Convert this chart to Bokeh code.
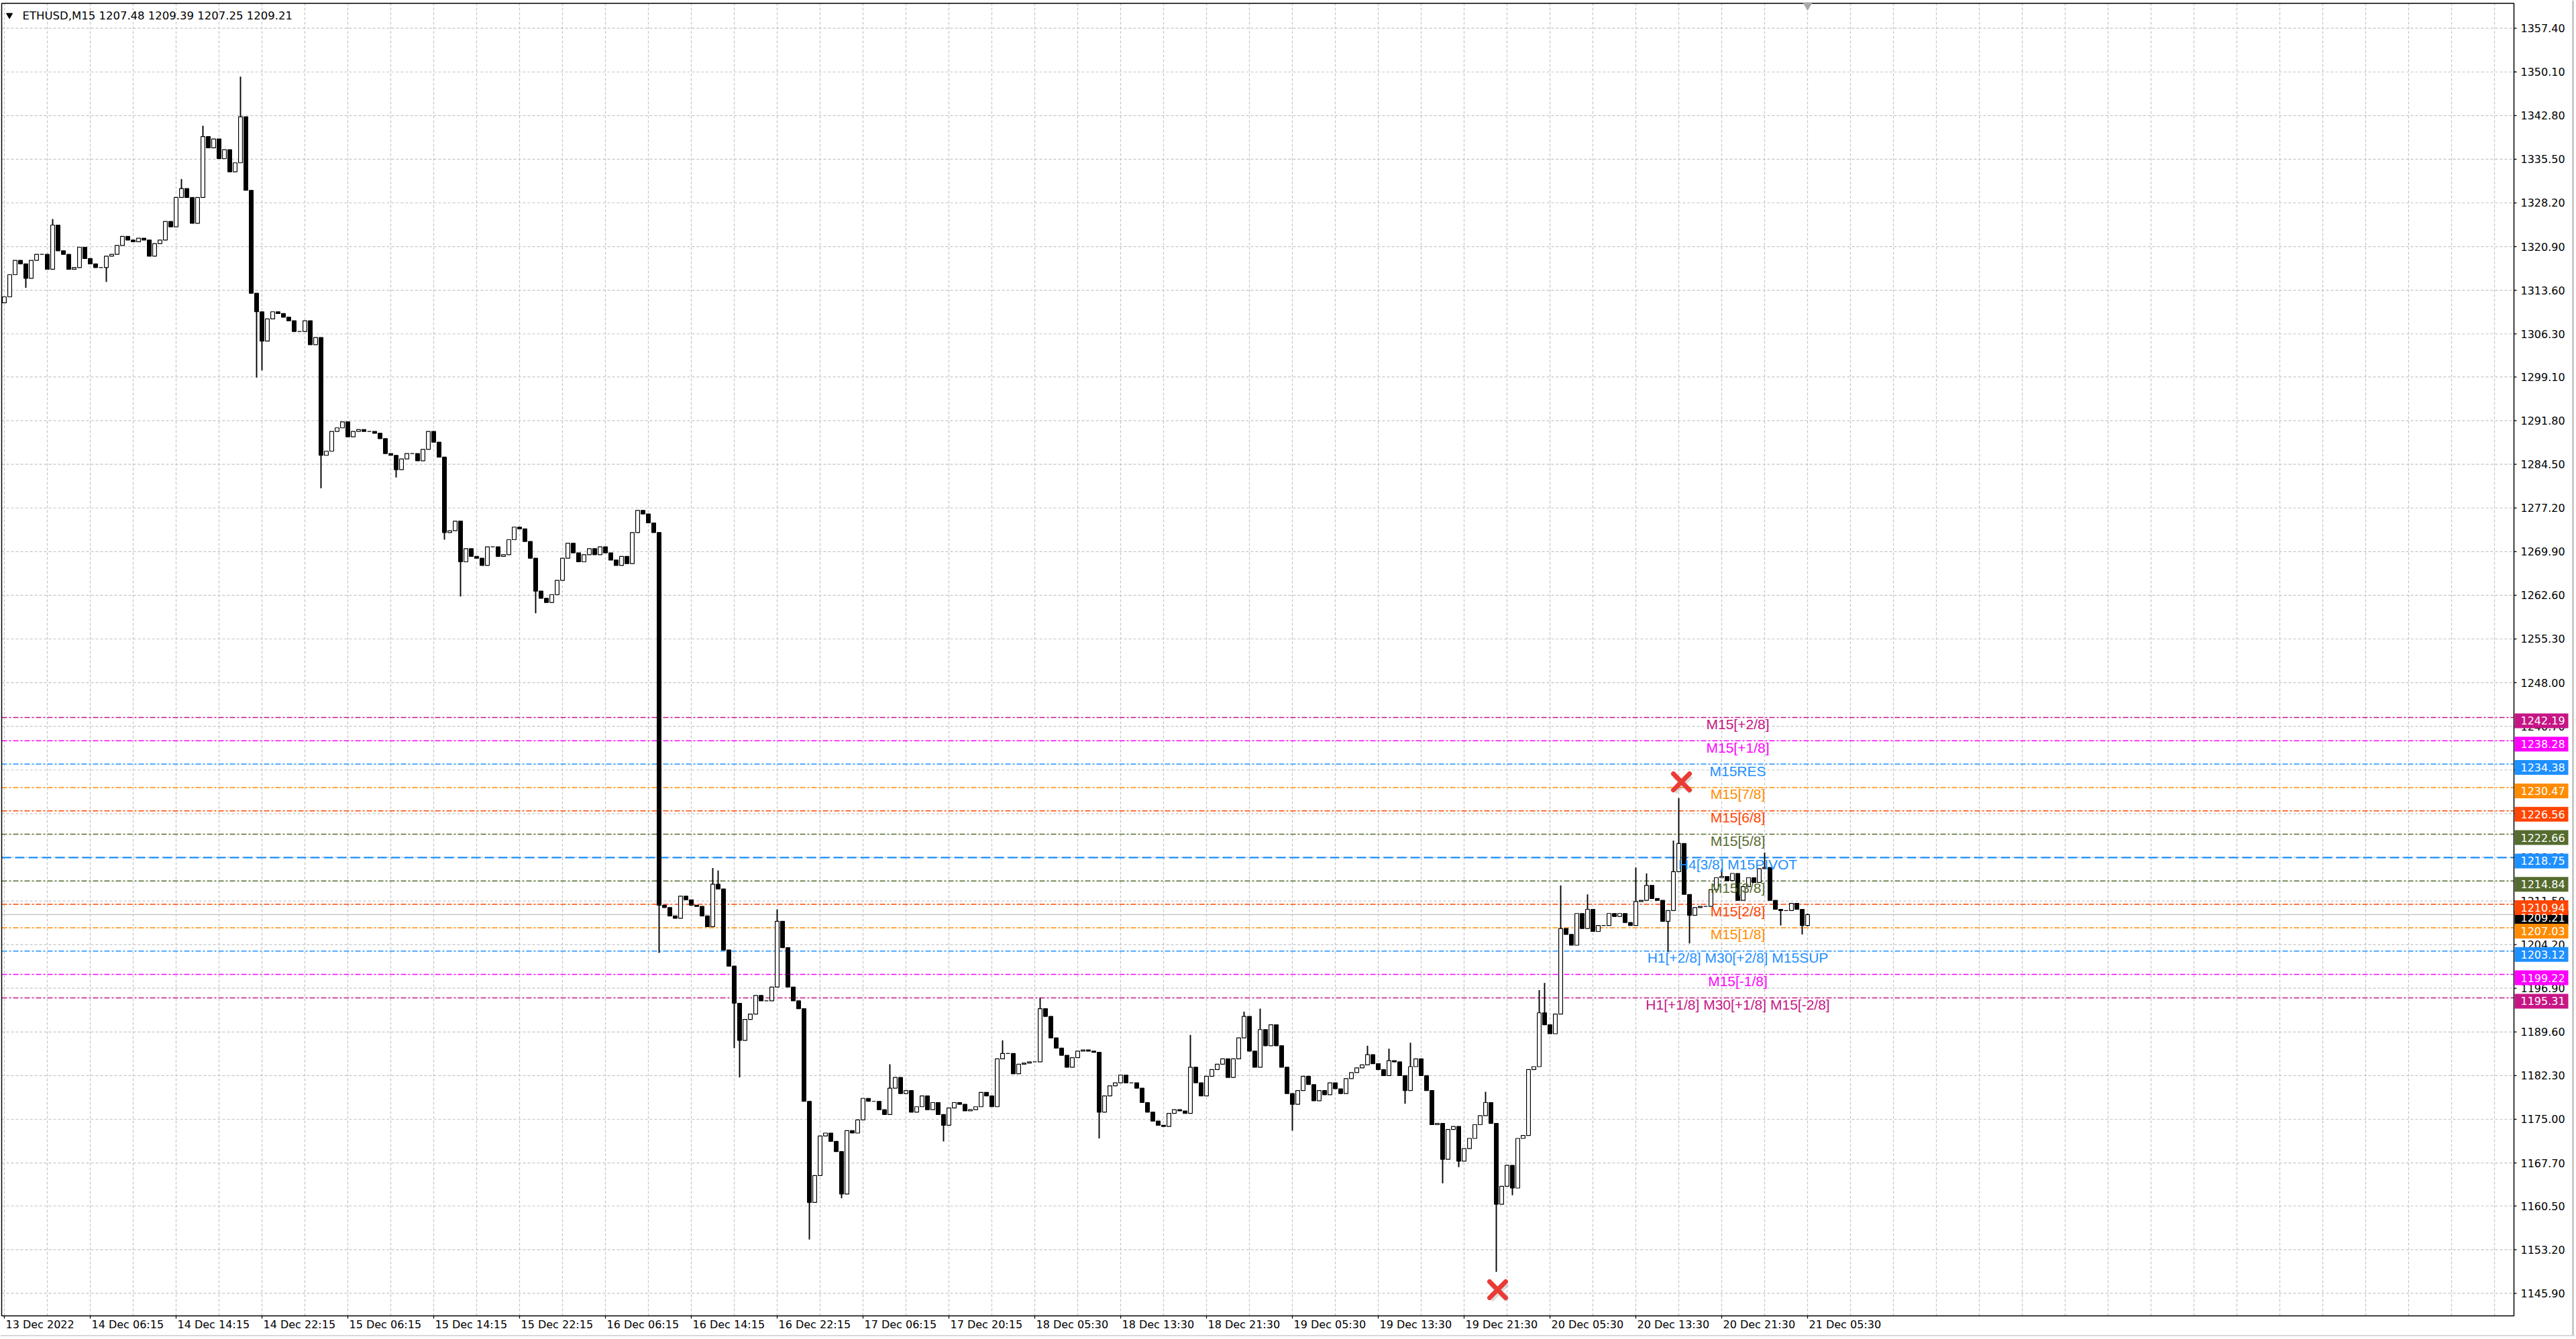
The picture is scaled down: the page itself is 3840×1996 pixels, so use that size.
from bokeh.plotting import figure
from bokeh.models import ColumnDataSource
from bokeh.core.properties import value
from bokeh.embed import file_html
from bokeh.resources import INLINE

# ---------------- data ----------------
symbol = "ETHUSD,M15"
last_ohlc = [1207.48, 1209.39, 1207.25, 1209.21]
first_open = 1311.5

# closes, one candle per two M15 bars (bar index = 2*k)
closes = [
    1312.5, 1316.2, 1318.6, 1318.0, 1315.6, 1318.6, 1319.6, 1319.6, 1317.1, 1324.5,
    1320.2, 1319.6, 1317.1, 1317.4, 1320.8, 1318.9, 1318.0, 1317.4, 1317.4, 1319.3,
    1319.6, 1321.1, 1322.6, 1322.0, 1321.7, 1322.3, 1322.0, 1319.3, 1321.4, 1322.0,
    1325.1, 1324.2, 1329.1, 1330.6, 1329.1, 1324.8, 1329.1, 1339.3, 1337.4, 1338.9,
    1335.6, 1337.1, 1333.4, 1334.9, 1342.6, 1330.3, 1313.1, 1310.0, 1305.1, 1308.8,
    1310.0, 1309.7, 1309.1, 1308.5, 1306.7, 1306.7, 1308.5, 1304.5, 1305.7, 1286.0,
    1286.7, 1290.0, 1290.6, 1291.6, 1289.1, 1290.0, 1290.3, 1290.0, 1290.0, 1289.7,
    1288.8, 1286.3, 1286.0, 1283.6, 1285.4, 1286.3, 1286.3, 1285.1, 1287.0, 1290.0,
    1288.2, 1285.7, 1273.1, 1273.4, 1275.0, 1268.2, 1270.4, 1269.1, 1268.8, 1267.6,
    1270.7, 1270.7, 1269.1, 1269.4, 1271.9, 1274.0, 1273.7, 1271.6, 1268.8, 1263.3,
    1262.1, 1261.4, 1262.7, 1265.1, 1268.8, 1271.3, 1269.7, 1268.2, 1269.4, 1270.4,
    1269.4, 1270.7, 1269.7, 1268.5, 1267.6, 1269.1, 1267.9, 1273.1, 1276.8, 1276.2,
    1274.7, 1273.1, 1210.8, 1210.4, 1209.0, 1208.6, 1212.3, 1211.7, 1210.8, 1210.6,
    1209.0, 1207.2, 1214.3, 1213.5, 1203.3, 1200.6, 1194.4, 1188.2, 1191.7, 1192.6,
    1195.7, 1194.8, 1194.8, 1197.1, 1208.1, 1203.7, 1197.1, 1194.8, 1193.5, 1178.0,
    1161.1, 1165.6, 1172.2, 1172.7, 1171.3, 1169.6, 1162.5, 1173.1, 1172.7, 1174.9,
    1178.5, 1178.0, 1178.0, 1176.6, 1175.8, 1180.2, 1182.0, 1179.3, 1179.8, 1176.2,
    1177.1, 1178.9, 1176.6, 1177.8, 1175.8, 1174.0, 1176.9, 1177.8, 1177.5, 1176.4,
    1176.6, 1177.1, 1179.5, 1178.9, 1177.1, 1185.1, 1186.0, 1186.0, 1182.6, 1184.2,
    1184.4, 1184.6, 1184.6, 1193.5, 1192.2, 1188.6, 1186.9, 1185.7, 1183.7, 1185.3,
    1186.4, 1186.6, 1186.4, 1186.2, 1176.2, 1178.9, 1180.6, 1181.1, 1182.4, 1181.1,
    1181.1, 1180.2, 1177.8, 1176.2, 1174.7, 1174.0, 1173.8, 1176.0, 1176.6, 1176.4,
    1176.0, 1183.7, 1181.1, 1178.9, 1182.2, 1183.3, 1184.2, 1185.1, 1182.0, 1185.1,
    1188.6, 1192.2, 1186.4, 1183.7, 1190.0, 1187.3, 1190.8, 1187.3, 1183.7, 1179.3,
    1177.5, 1179.8, 1182.2, 1180.8, 1178.1, 1179.8, 1179.1, 1181.1, 1180.1, 1179.3,
    1181.8, 1182.8, 1183.6, 1184.1, 1185.8, 1184.3, 1183.3, 1182.3, 1184.8, 1184.6,
    1182.3, 1179.8, 1183.8, 1185.1, 1182.3, 1179.8, 1174.1, 1174.3, 1168.3, 1173.3,
    1173.8, 1168.0, 1170.1, 1171.8, 1174.1, 1175.6, 1177.8, 1174.3, 1160.8, 1163.8,
    1167.3, 1163.5, 1171.8, 1172.3, 1183.3, 1183.8, 1192.8, 1190.8, 1189.3, 1192.6,
    1206.9, 1205.9, 1204.1, 1209.4, 1206.9, 1210.1, 1206.4, 1207.4, 1207.4, 1209.4,
    1208.9, 1209.4, 1207.9, 1207.4, 1211.4, 1211.6, 1214.1, 1211.9, 1211.6, 1208.1,
    1209.9, 1216.4, 1221.1, 1212.6, 1209.1, 1210.4, 1210.6, 1210.6, 1213.4, 1215.4,
    1215.6, 1214.9, 1216.1, 1211.6, 1213.9, 1215.4, 1214.6, 1216.9, 1217.1, 1211.6,
    1210.1, 1209.9, 1209.9, 1211.1, 1210.1, 1207.4, 1209.21,
]

# visible wick extremes (candle index -> price)
spike_high = {9: 1325.5, 33: 1332.2, 37: 1341.1, 44: 1349.3, 132: 1217.0, 133: 1216.6,
              144: 1210.1, 165: 1184.2, 186: 1188.2, 193: 1195.3, 221: 1189.1, 231: 1193.0,
              234: 1193.5, 254: 1187.3, 258: 1186.8, 262: 1187.8, 276: 1179.6, 286: 1196.6,
              287: 1197.8, 290: 1214.1, 295: 1212.6, 304: 1217.1, 306: 1216.1, 311: 1221.6,
              312: 1228.7, 320: 1216.9, 328: 1219.6, 336: 1209.39}
spike_low = {4: 1314.0, 19: 1315.0, 47: 1299.0, 48: 1300.2, 59: 1280.5, 73: 1282.3,
             82: 1271.9, 85: 1262.4, 99: 1259.6, 122: 1202.8, 136: 1186.9, 137: 1182.0,
             150: 1154.9, 156: 1161.8, 175: 1171.3, 204: 1171.8, 240: 1173.1, 261: 1177.6,
             268: 1164.3, 271: 1167.0, 278: 1149.5, 281: 1162.3, 310: 1203.0, 314: 1204.4,
             331: 1207.4, 335: 1205.9, 336: 1207.25}

y_ticks = [1357.40, 1350.10, 1342.80, 1335.50, 1328.20, 1320.90, 1313.60, 1306.30, 1299.10,
           1291.80, 1284.50, 1277.20, 1269.90, 1262.60, 1255.30, 1248.00, 1240.70, 1233.40,
           1226.10, 1218.80, 1211.50, 1204.20, 1196.90, 1189.60, 1182.30, 1175.00, 1167.70,
           1160.50, 1153.20, 1145.90]

x_tick_bars = [0, 32, 64, 96, 128, 160, 192, 224, 256, 288, 320, 352, 384, 416, 448, 480,
               512, 544, 576, 608, 640, 672]
x_tick_labels = ["13 Dec 2022", "14 Dec 06:15", "14 Dec 14:15", "14 Dec 22:15", "15 Dec 06:15",
                 "15 Dec 14:15", "15 Dec 22:15", "16 Dec 06:15", "16 Dec 14:15", "16 Dec 22:15",
                 "17 Dec 06:15", "17 Dec 20:15", "18 Dec 05:30", "18 Dec 13:30", "18 Dec 21:30",
                 "19 Dec 05:30", "19 Dec 13:30", "19 Dec 21:30", "20 Dec 05:30", "20 Dec 13:30",
                 "20 Dec 21:30", "21 Dec 05:30"]

level_prices = [1242.19, 1238.28, 1234.38, 1230.47, 1226.56, 1222.66, 1218.75, 1214.84,
                1210.94, 1207.03, 1203.12, 1199.22, 1195.31]
level_names = ["M15[+2/8]", "M15[+1/8]", "M15RES", "M15[7/8]", "M15[6/8]", "M15[5/8]",
               "H4[3/8] M15PIVOT", "M15[3/8]", "M15[2/8]", "M15[1/8]",
               "H1[+2/8] M30[+2/8] M15SUP", "M15[-1/8]", "H1[+1/8] M30[+1/8] M15[-2/8]"]
level_colors = ["#C71585", "#FF00FF", "#1E90FF", "#FF8C00", "#FF4500", "#556B2F", "#1E90FF",
                "#556B2F", "#FF4500", "#FF8C00", "#1E90FF", "#FF00FF", "#C71585"]
level_dash = ["8 3 3 3"] * 6 + ["14 6"] + ["8 3 3 3"] * 6
level_width = [1.5] * 6 + [2.2] + [1.5] * 6
label_bar = 646

bid_price = 1209.21
marker_bars = [625, 556.5]
marker_prices = [1231.4, 1146.5]

# ---------------- layout constants (bar index / price space) ----------------
X_START, X_END = -1.5, 958.0          # whole canvas, 4 px per M15 bar
Y_BOT, Y_TOP = 1138.66, 1362.07       # whole canvas, 0.11215 per px
CH_LEFT, CH_RIGHT = -1.0, 935.25      # chart frame
CH_BOT, CH_TOP = 1142.14, 1361.56
PX_Y = 0.11215                        # price per pixel
SCALE_TEXT_X = 937.75
TAG_X = 945.5
DATE_Y = 1140.68

# ---------------- derived table ----------------
n = len(closes)
opens = [first_open] + closes[:-1]
bars = [2 * k for k in range(n)]
highs = [max(opens[k], closes[k], spike_high.get(k, -1e9)) for k in range(n)]
lows = [min(opens[k], closes[k], spike_low.get(k, 1e9)) for k in range(n)]
up = [closes[k] >= opens[k] for k in range(n)]

def body_src(flag):
    idx = [k for k in range(n) if up[k] == flag]
    return ColumnDataSource(dict(x=[bars[k] for k in idx],
                                 top=[max(opens[k], closes[k]) for k in idx],
                                 bottom=[min(opens[k], closes[k]) for k in idx]))

src_up = body_src(True)
src_dn = body_src(False)
src_wick = ColumnDataSource(dict(x=bars, hi=highs, lo=lows))

# ---------------- figure ----------------
p = figure(width=3838, height=1992, x_range=(X_START, X_END), y_range=(Y_BOT, Y_TOP),
           x_axis_type=None, y_axis_type=None, output_backend="svg", toolbar_location=None,
           min_border=0, background_fill_color="white", border_fill_color="white",
           outline_line_color=None)

# grid
vgrid = list(range(0, 935, 16))
p.segment(x0=vgrid, y0=[CH_BOT] * len(vgrid), x1=vgrid, y1=[CH_TOP] * len(vgrid),
          line_color="#C4C4C4", line_dash="4 3", line_width=1.2)
p.segment(x0=[CH_LEFT] * len(y_ticks), y0=y_ticks, x1=[CH_RIGHT] * len(y_ticks), y1=y_ticks,
          line_color="#C4C4C4", line_dash="4 3", line_width=1.2)

# level lines
for pr, c, d, w in zip(level_prices, level_colors, level_dash, level_width):
    p.segment(x0=[CH_LEFT], y0=[pr], x1=[CH_RIGHT], y1=[pr], line_color=c, line_dash=d,
              line_width=w)
p.segment(x0=[CH_LEFT], y0=[bid_price], x1=[CH_RIGHT], y1=[bid_price],
          line_color="#BEBEBE", line_width=1.2)

# candles
p.segment(x0="x", y0="lo", x1="x", y1="hi", source=src_wick, line_color="black", line_width=1.9)
p.vbar(x="x", top="top", bottom="bottom", width=1.45, source=src_up,
       fill_color="white", line_color="black", line_width=1.2)
p.vbar(x="x", top="top", bottom="bottom", width=1.45, source=src_dn,
       fill_color="black", line_color="black", line_width=1.2)

# level texts
src_txt = ColumnDataSource(dict(x=[label_bar] * len(level_prices), y=level_prices,
                                t=level_names, c=level_colors))
p.text(x="x", y="y", text="t", text_color="c", source=src_txt,
       text_font=value("Liberation Sans"), text_font_size="21px",
       text_align="center", text_baseline="alphabetic", y_offset=10)

# red crosses
p.scatter(x=[b + 0.5 for b in marker_bars], y=[pr - 0.35 for pr in marker_prices],
          marker="x", size=34, line_width=8, line_color="#777777", line_alpha=0.25)
p.scatter(x=marker_bars, y=marker_prices, marker="x", size=34, line_width=7,
          line_color="#EA3B35", line_cap="round")

# chart frame
p.quad(left=[CH_LEFT], right=[CH_RIGHT], bottom=[CH_BOT], top=[CH_TOP],
       fill_color=None, line_color="black", line_width=1.5)

# chart-shift marker at top
p.scatter(x=[bars[-1]], y=[CH_TOP - 0.3], marker="inverted_triangle", size=13,
          fill_color="#A8A8A8", line_color="#A8A8A8")

# price scale: ticks and labels
p.segment(x0=[CH_RIGHT] * len(y_ticks), y0=y_ticks, x1=[CH_RIGHT + 1.0] * len(y_ticks),
          y1=y_ticks, line_color="black", line_width=1.3)
p.text(x=[SCALE_TEXT_X] * len(y_ticks), y=y_ticks, text=[f"{v:.2f}" for v in y_ticks],
       text_font=value("DejaVu Sans"), text_font_size="16px", text_color="black",
       text_align="left", text_baseline="middle")

# time scale: ticks and labels
p.segment(x0=x_tick_bars, y0=[CH_BOT] * len(x_tick_bars), x1=x_tick_bars,
          y1=[CH_BOT - 4 * PX_Y] * len(x_tick_bars), line_color="black", line_width=1.3)
p.text(x=[b + 0.5 for b in x_tick_bars], y=[DATE_Y] * len(x_tick_bars), text=x_tick_labels,
       text_font=value("DejaVu Sans"), text_font_size="16px", text_color="black",
       text_align="left", text_baseline="middle")

# price tags (bid first, level tags on top)
tag_prices = [bid_price] + level_prices
tag_colors = ["black"] + level_colors
src_tag = ColumnDataSource(dict(x=[TAG_X] * len(tag_prices),
                                yb=[pr - 5 * PX_Y for pr in tag_prices],
                                y=tag_prices, c=tag_colors,
                                t=[f"{pr:.2f}" for pr in tag_prices]))
p.rect(x="x", y="yb", width=80, height=22, width_units="screen", height_units="screen",
       fill_color="c", line_color=None, source=src_tag)
p.text(x=SCALE_TEXT_X, y="y", text="t", source=src_tag, text_color="white",
       text_font=value("DejaVu Sans"), text_font_size="16px",
       text_align="left", text_baseline="middle", y_offset=5)

# window border
p.segment(x0=[957.25], y0=[Y_BOT], x1=[957.25], y1=[Y_TOP], line_color="#B0B0B0", line_width=2)
p.segment(x0=[X_START], y0=[Y_BOT + 1.5 * PX_Y], x1=[X_END], y1=[Y_BOT + 1.5 * PX_Y],
          line_color="#D8D8D8", line_width=2)

# header text
p.scatter(x=[1.9], y=[1359.6], marker="inverted_triangle", size=9,
          fill_color="black", line_color="black")
hdr = symbol + "  " + " ".join(f"{v:.2f}" for v in last_ohlc)
p.text(x=[6.75], y=[1359.49], text=[hdr], text_font=value("DejaVu Sans"),
       text_font_size="16.5px", text_color="black", text_align="left",
       text_baseline="middle")

open("out.html", "w").write(file_html(p, INLINE))
